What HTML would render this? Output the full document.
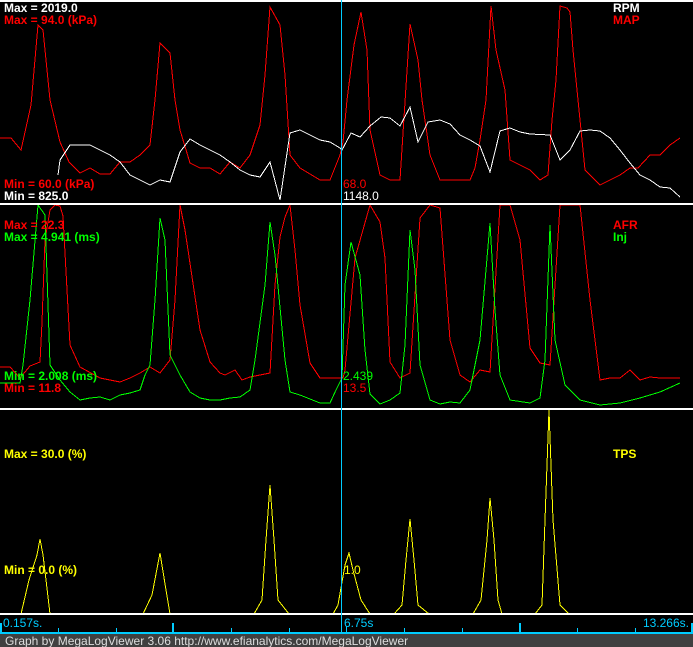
<!DOCTYPE html>
<html><head><style>
html,body{margin:0;padding:0;background:#000;width:693px;height:647px;overflow:hidden}
svg{display:block}
text{font-family:"Liberation Sans",sans-serif;font-size:12px}
.b{font-weight:bold}
</style></head><body>
<svg width="693" height="647" viewBox="0 0 693 647" xmlns="http://www.w3.org/2000/svg" shape-rendering="crispEdges">
<rect width="693" height="647" fill="#000"/>
<g fill="none" stroke-width="1">
<!-- MAP -->
<polyline stroke="#f00" points="0,138 11,138 21,150 31,105 38,25 43,30 50,100 60,142 69,162 80,173 90,168 100,174 110,174 120,162 130,162 140,155 150,145 155,100 160,43 170,53 175,100 180,130 190,163 200,168 210,168 220,174 230,162 240,168 250,155 260,125 265,75 270,7 280,25 285,75 290,155 300,168 310,174 320,180 330,180 340,155 343,142 347,100 354,45 361,12 367,50 370,130 380,175 390,180 400,180 410,24 418,60 422,100 430,155 440,180 470,180 475,168 480,140 486,100 491,6 496,50 505,90 510,160 520,165 530,170 540,180 548,175 552,120 556,80 560,6 567,8 570,12 573,50 580,120 585,170 595,180 600,185 610,180 620,175 630,168 638,168 650,155 660,155 670,145 680,138"/>
<!-- RPM -->
<polyline stroke="#fff" points="58,175 60,160 70,145 80,145 90,145 100,150 110,155 120,162 130,175 140,180 150,185 160,180 170,182 180,152 190,139 200,145 210,150 220,155 230,162 240,170 250,175 260,177 270,162 280,200 290,133 300,130 310,135 320,140 330,142 340,148 342,150 351,133 360,137 370,126 381,117 390,118 400,126 410,107 418,142 428,122 440,120 450,124 460,135 470,140 480,146 490,172 500,131 510,128 520,132 530,134 550,135 560,160 570,150 580,131 590,130 600,131 610,138 620,150 630,163 640,175 650,180 660,187 670,188 680,197"/>
<!-- AFR -->
<polyline stroke="#f00" points="0,367 10,367 20,378 30,366 40,362 42,322 45,240 50,210 55,205 60,206 63,216 70,345 80,367 100,378 110,380 120,382 130,378 140,373 150,367 160,373 170,360 175,300 180,205 185,230 200,330 210,362 220,373 225,375 235,370 242,380 250,377 255,376 270,373 275,285 280,237 285,217 290,205 295,250 300,305 310,363 320,378 330,378 343,378 345,370 355,258 370,205 380,222 385,258 390,362 400,378 410,373 420,218 430,205 440,208 450,340 460,375 470,382 480,370 490,372 500,205 510,205 520,240 530,348 540,363 550,365 560,205 580,205 590,300 600,380 610,378 620,378 630,370 640,380 650,377 660,378 680,378"/>
<!-- Inj -->
<polyline stroke="#0f0" points="0,383 20,383 23,365 30,300 38,205 45,215 50,365 60,380 70,392 80,400 90,398 100,397 110,400 120,395 130,393 140,390 145,375 150,365 155,300 160,218 165,240 170,355 180,375 190,392 200,398 210,400 220,400 230,398 240,397 250,390 255,360 265,285 270,222 275,255 285,360 290,392 300,395 320,403 330,403 336,390 342,378 345,285 351,242 360,275 365,350 370,394 380,404 390,400 400,393 405,345 410,230 415,270 420,365 430,400 440,404 450,402 460,403 470,390 480,340 490,223 495,310 500,375 510,400 530,403 540,398 545,360 550,225 555,340 565,385 580,400 600,405 620,403 640,398 660,392 680,383"/>
<!-- TPS -->
<polyline stroke="#ff0" points="0,614 21,614 29,580 37,555 40,539 43,555 46,580 50,614 143,614 152,595 160,553 166,590 170,614 254,614 262,600 266,540 270,485 274,540 278,600 289,614 333,614 338,605 345,565 349,553 353,570 361,600 370,614 394,614 402,605 406,560 410,519 414,560 418,605 429,614 473,614 481,600 487,540 490,498 494,540 498,600 502,614 535,614 542,605 545,520 549,410 553,520 560,605 569,614 693,614"/>
</g>
<!-- separators -->
<rect x="0" y="0" width="693" height="2" fill="#fff"/>
<rect x="0" y="203" width="693" height="2" fill="#fff"/>
<rect x="0" y="408" width="693" height="2" fill="#fff"/>
<rect x="0" y="613" width="693" height="2" fill="#fff"/>
<rect x="341" y="0" width="1" height="633" fill="#0cf"/>
<!-- axis -->
<rect x="0" y="632" width="693" height="2" fill="#0cf"/>
<g fill="#0cf">
<rect x="0" y="623" width="2" height="10"/><rect x="172" y="623" width="2" height="10"/><rect x="519" y="623" width="2" height="10"/><rect x="691" y="623" width="2" height="10"/><rect x="346" y="626" width="1" height="7"/>
<rect x="58" y="628" width="1" height="5"/><rect x="116" y="628" width="1" height="5"/><rect x="231" y="628" width="1" height="5"/><rect x="289" y="628" width="1" height="5"/><rect x="404" y="628" width="1" height="5"/><rect x="462" y="628" width="1" height="5"/><rect x="577" y="628" width="1" height="5"/><rect x="635" y="628" width="1" height="5"/>
</g>
<text x="3" y="627" fill="#0cf">0.157s.</text>
<text x="344" y="627" fill="#0cf">6.75s</text>
<text x="689" y="627" fill="#0cf" text-anchor="end">13.266s.</text>
<rect x="0" y="634" width="693" height="13" fill="#404040"/>
<text x="5" y="645" fill="#ddd">Graph by MegaLogViewer 3.06 http://www.efianalytics.com/MegaLogViewer</text>
<!-- labels -->
<text class="b" x="4" y="12" fill="#fff">Max = 2019.0</text>
<text class="b" x="4" y="24" fill="#f00">Max = 94.0 (kPa)</text>
<text class="b" x="4" y="188" fill="#f00">Min = 60.0 (kPa)</text>
<text class="b" x="4" y="200" fill="#fff">Min = 825.0</text>
<text x="343" y="188" fill="#f00">68.0</text>
<text x="343" y="200" fill="#fff">1148.0</text>
<text class="b" x="613" y="12" fill="#fff">RPM</text>
<text class="b" x="613" y="24" fill="#f00">MAP</text>
<text class="b" x="4" y="229" fill="#f00">Max = 22.3</text>
<text class="b" x="4" y="241" fill="#0f0">Max = 4.941 (ms)</text>
<text class="b" x="4" y="380" fill="#0f0">Min = 2.008 (ms)</text>
<text class="b" x="4" y="392" fill="#f00">Min = 11.8</text>
<text x="343" y="380" fill="#0f0">2.439</text>
<text x="343" y="392" fill="#f00">13.5</text>
<text class="b" x="613" y="229" fill="#f00">AFR</text>
<text class="b" x="613" y="241" fill="#0f0">Inj</text>
<text class="b" x="4" y="458" fill="#ff0">Max = 30.0 (%)</text>
<text class="b" x="4" y="574" fill="#ff0">Min = 0.0 (%)</text>
<text class="b" x="613" y="458" fill="#ff0">TPS</text>
<text x="344" y="574" fill="#ff0">1.0</text>
</svg>
</body></html>
